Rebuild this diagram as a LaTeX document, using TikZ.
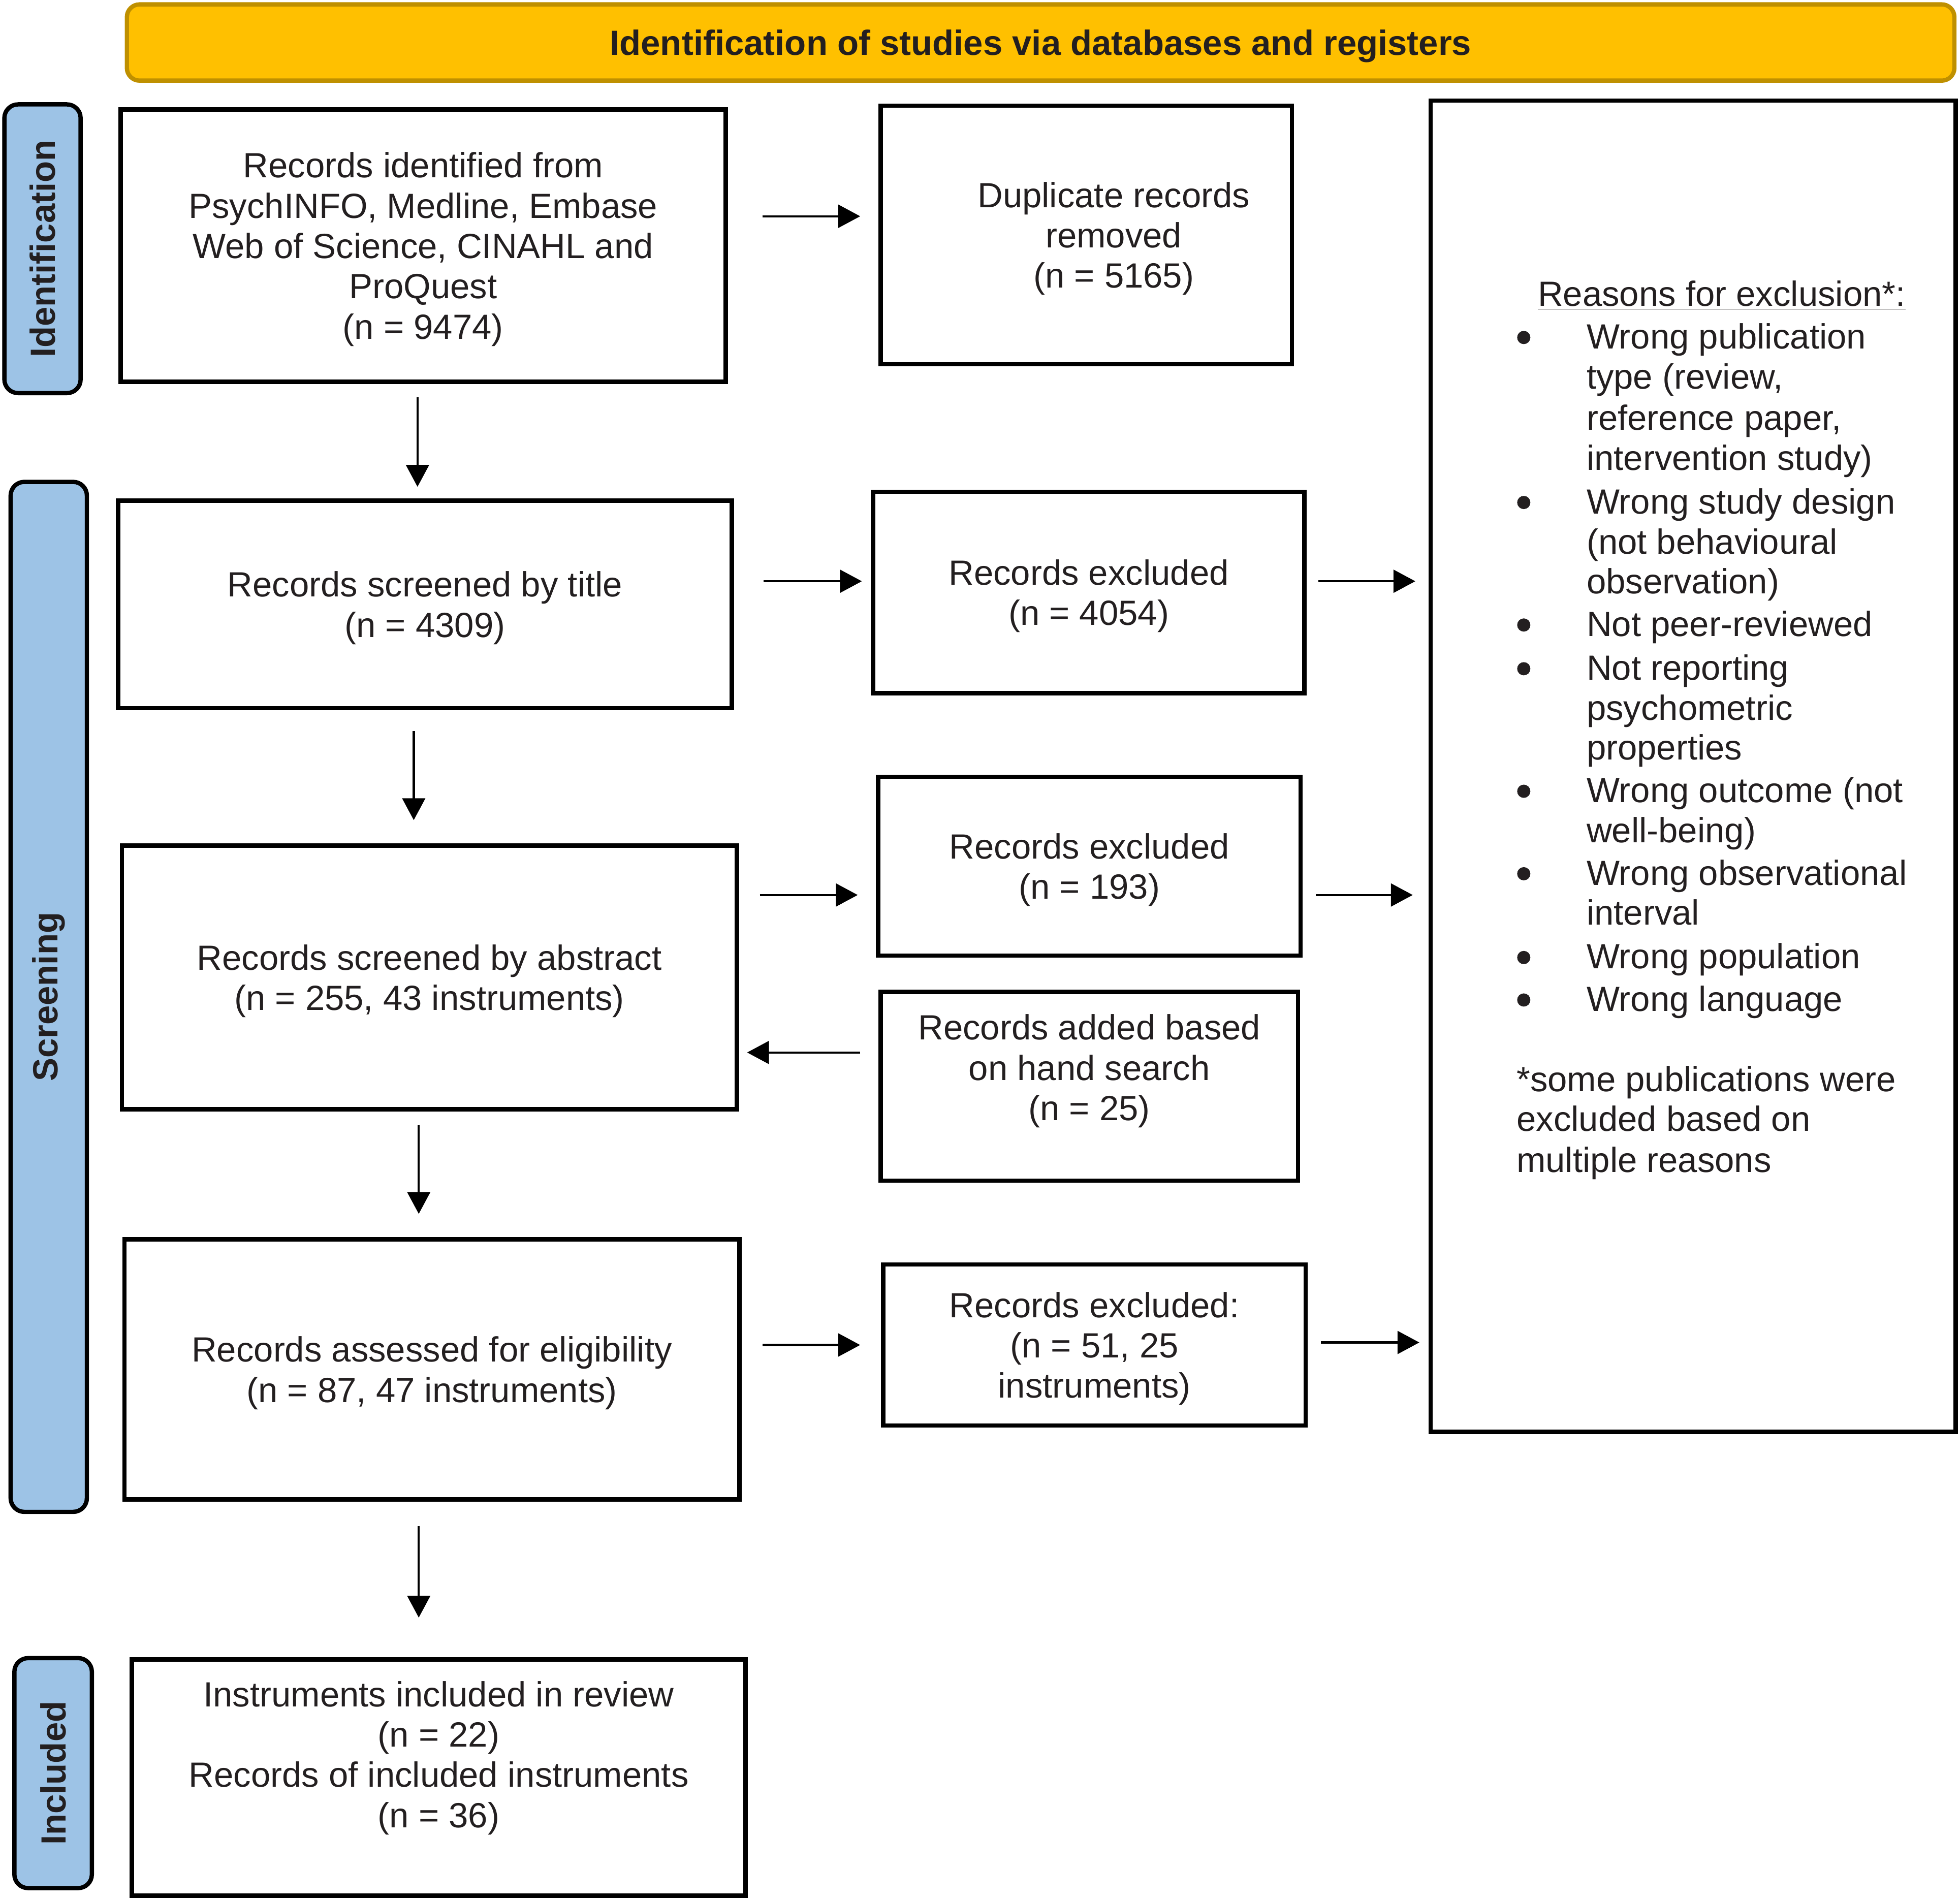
\documentclass[tikz,border=0pt]{standalone}
\usepackage{fontspec}
\setmainfont{Liberation Sans}
\usetikzlibrary{arrows.meta,calc}
\definecolor{bannergold}{HTML}{FFC000}
\definecolor{bannerrim}{HTML}{BF9000}
\definecolor{phaseblue}{HTML}{9DC3E6}
\definecolor{inkgray}{HTML}{231F20}
\newcommand\bodyfont{\fontsize{19.6pt}{22.6pt}\selectfont}
\newcommand\pxu{0.24605mm}

\tikzset{
  recbox/.style={draw=black,line width=2.4pt,align=center,inner sep=0pt,font=\bodyfont,text=inkgray,text depth=0pt},
  wh/.style 2 args={minimum width=#1*\pxu,minimum height=#2*\pxu},
  phase/.style={draw=black,line width=2.4pt,fill=phaseblue,rounded corners=2.7mm,rotate=90,inner sep=0pt,font=\bodyfont\bfseries,text=inkgray},
  flow/.style={line width=1.2pt,-{Triangle[length=4.3mm,width=4.5mm]}},
  reasonline/.style={anchor=west,inner sep=0pt,font=\bodyfont,text=inkgray,text height=14pt,text depth=0pt},
  dot/.style={circle,fill=inkgray,inner sep=0pt,minimum size=2.6mm},
}

\begin{document}
\begin{tikzpicture}[x=\pxu,y=-\pxu]
\useasboundingbox (0,0) rectangle (1568,1520);

% header and phase labels
\node[draw=bannerrim,line width=2.4pt,fill=bannergold,rounded corners=2.5mm,wh={1462}{61},
      font=\bodyfont\bfseries,text=inkgray,text depth=0pt] (banner) at (832.5,34) {Identification of studies via databases and registers};
\node[phase,wh={231}{61}] (phid) at (34,199) {Identification};
\node[phase,wh={824}{61}] (phscr) at (39,797.5) {Screening};
\node[phase,wh={184}{62}] (phinc) at (42.5,1418.5) {Included};

% main column
\node[recbox,wh={484}{218}] (ident) at (338.5,196.5) {Records identified from\\PsychINFO, Medline, Embase\\Web of Science, CINAHL and\\ProQuest\\(n = 9474)};
\node[recbox,wh={491}{166}] (title) at (340,483.5) {Records screened by title\\(n = 4309)};
\node[recbox,wh={492}{211}] (abstr) at (343.5,782) {Records screened by abstract\\(n = 255, 43 instruments)};
\node[recbox,wh={492}{208}] (elig) at (345.5,1095.5) {Records assessed for eligibility\\(n = 87, 47 instruments)};
\node[recbox,wh={491}{189}] (incl) at (351,1422) {};
\node[recbox,draw=none] (incltxt) at ([yshift=18.5*\pxu]incl.center) {Instruments included in review\\(n = 22)\\Records of included instruments\\(n = 36)};

% side column
\node[recbox,wh={329}{207}] (dup) at (869,188) {};
\node[recbox,draw=none] (duptxt) at ([xshift=22*\pxu]dup.center) {Duplicate records\\removed\\(n = 5165)};
\node[recbox,wh={345}{161}] (excA) at (871,474) {Records excluded\\(n = 4054)};
\node[recbox,wh={338}{143}] (excB) at (871.5,693) {Records excluded\\(n = 193)};
\node[recbox,wh={334}{151}] (added) at (871.5,869) {};
\node[recbox,draw=none] (addedtxt) at ([yshift=15*\pxu]added.center) {Records added based\\on hand search\\(n = 25)};
\node[recbox,wh={338}{129}] (excC) at (875.5,1076) {Records excluded:\\(n = 51, 25\\instruments)};

% reasons
\node[recbox,wh={420}{1065}] (reasons) at (1354.5,613) {};
\node[reasonline] (rhead) at (1230,235) {\underline{Reasons for exclusion*:}};
\foreach \y/\t in {269/Wrong publication, 301/{type (review,}, 334/{reference paper,}, 366/intervention study),
  401/Wrong study design, 433/(not behavioural, 465/observation), 499/Not peer-reviewed,
  534/Not reporting, 566/psychometric, 598/properties, 632/Wrong outcome (not, 664/well-being),
  698/Wrong observational, 730/interval, 765/Wrong population, 799/Wrong language}
  \node[reasonline] (r\y) at (1269,\y) {\t};
\foreach \y in {269,401,499,534,632,698,765,799}
  \node[dot] (b\y) at (1219,\y+1) {};
\node[reasonline] (note1) at (1213,863) {*some publications were};
\node[reasonline] (note2) at (1213,895) {excluded based on};
\node[reasonline] (note3) at (1213,928) {multiple reasons};

% arrows
\draw[flow,shorten <=6.8mm,shorten >=3.6mm] (ident.east |- 0,173) -- (dup.west |- 0,173);
\draw[flow,shorten <=5.8mm,shorten >=1.8mm] (title.east |- 0,465) -- (excA.west |- 0,465);
\draw[flow,shorten <=2.3mm,shorten >=2.6mm] (excA.east |- 0,465) -- (reasons.west |- 0,465);
\draw[flow,shorten <=4.1mm,shorten >=3.6mm] (abstr.east |- 0,716) -- (excB.west |- 0,716);
\draw[flow,shorten <=2.6mm,shorten >=3.1mm] (excB.east |- 0,716) -- (reasons.west |- 0,716);
\draw[flow,shorten <=3.6mm,shorten >=1.6mm] (added.west |- 0,842) -- (abstr.east |- 0,842);
\draw[flow,shorten <=4.1mm,shorten >=4.1mm] (elig.east |- 0,1076) -- (excC.west |- 0,1076);
\draw[flow,shorten <=2.6mm,shorten >=1.8mm] (excC.east |- 0,1074) -- (reasons.west |- 0,1074);
\draw[flow,shorten <=2.6mm,shorten >=2.3mm] (ident.south -| 334,0) -- (title.north -| 334,0);
\draw[flow,shorten <=4.1mm,shorten >=4.6mm] (title.south -| 331,0) -- (abstr.north -| 331,0);
\draw[flow,shorten <=2.6mm,shorten >=4.6mm] (abstr.south -| 335,0) -- (elig.north -| 335,0);
\draw[flow,shorten <=4.8mm,shorten >=7.8mm] (elig.south -| 335,0) -- (incl.north -| 335,0);
\end{tikzpicture}
\end{document}
